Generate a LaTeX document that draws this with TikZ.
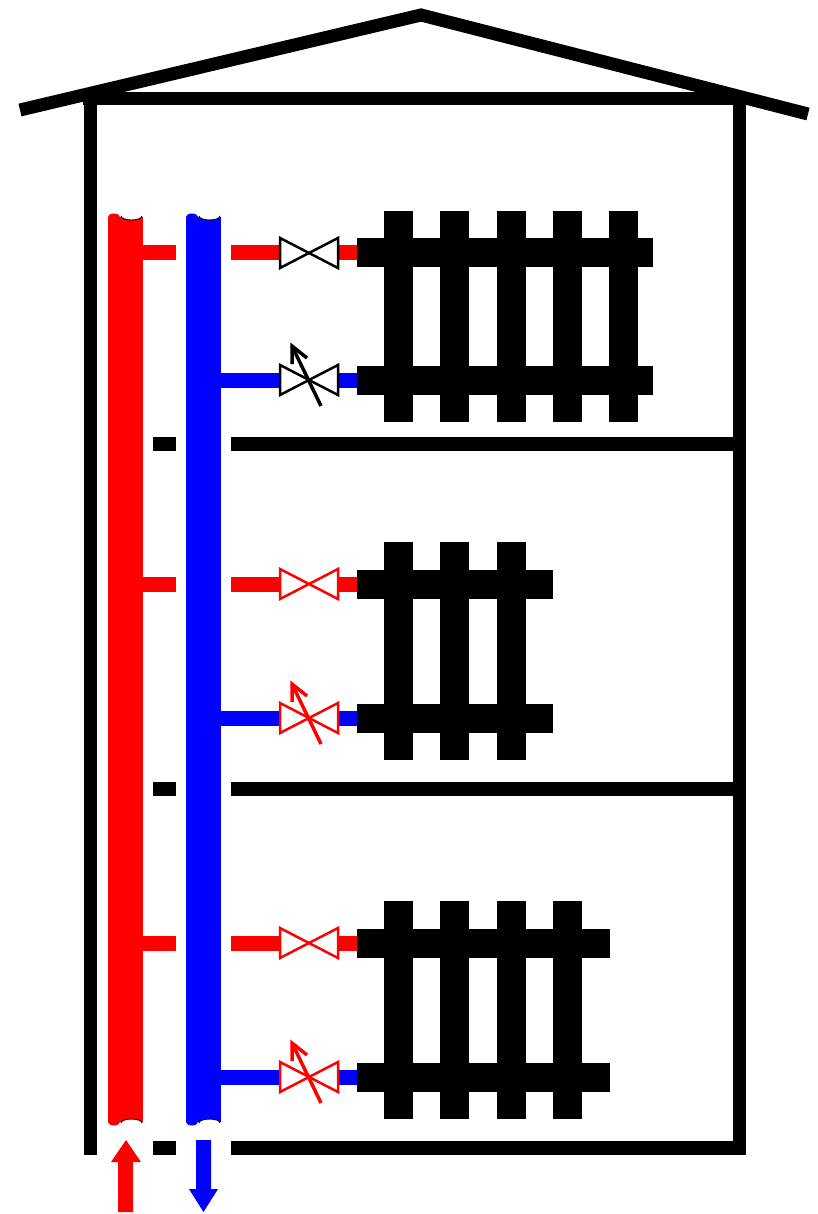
\documentclass[tikz,border=0pt]{standalone}
\begin{document}
\begin{tikzpicture}[x=1pt,y=-1pt,line join=miter]
\useasboundingbox (0,0) rectangle (818,1214);

\tikzset{
  wall/.style={line width=13pt,black},
  slab/.style={line width=14pt,black},
  hot/.style={fill=red},
  cold/.style={fill=blue},
  % plain two-way valve (bow-tie)
  pics/valve/.style={code={
    \draw[line width=2.5pt,draw=#1,fill=white]
      (-29,-15)--(29,15)--(29,-15)--(-29,15)--cycle;
  }},
  % thermostatic valve: bow-tie with an adjusting arrow
  pics/tvalve/.style={code={
    \draw[line width=2.5pt,draw=#1,fill=white]
      (-29,-15)--(29,15)--(29,-15)--(-29,15)--cycle;
    \draw[line width=3.5pt,draw=#1] (12,26)--(-17,-34);
    \draw[line width=3.5pt,draw=#1] (-17,-16)--(-17,-34)--(-2,-22);
  }},
}

% radiator: #1 supply bar y, #2 return bar y, #3 columns, #4 right end of bars
\newcommand\drawradiator[4]{%
  \fill (357,#1-14.5) rectangle (#4,#1+14.5);
  \fill (357,#2-14.5) rectangle (#4,#2+14.5);
  \foreach \k in {1,...,#3}{%
    \fill ({384+56.3*(\k-1)},#1-42) rectangle ({413+56.3*(\k-1)},#2+42);}%
}

% ---- house shell ----
\draw[line width=13pt] (20,110)--(421,15)--(808,114);
\draw[wall] (83,98.5)--(746,98.5);
\draw[wall] (90,92)--(90,1155);
\draw[wall] (739.5,92)--(739.5,1155);

% floor slabs (interrupted where the risers pass)
\foreach \fy in {444,789,1148}{
  \fill (153,\fy-7) rectangle (176,\fy+7);
  \draw[slab] (231,\fy)--(746,\fy);
}

% ---- risers ----
\fill[red] (108,217) rectangle (143,1122);
\fill[blue] (186,217) rectangle (221,1122);
\foreach \px in {108,186}{
  \ifnum\px=108 \def\pc{red}\else\def\pc{blue}\fi
  \fill[\pc] (\px+6,217) ellipse (6 and 3.5);
  \fill[\pc] (\px+6,1122) ellipse (6 and 3.5);
  \fill[white] (\px+23.5,216) ellipse (10.5 and 4);
  \draw[line width=0.9pt] (\px+13,216) arc[start angle=180,end angle=0,x radius=10.5,y radius=4];
  \fill[white] (\px+23.5,1123) ellipse (10.5 and 4);
  \draw[line width=0.9pt] (\px+13,1123) arc[start angle=180,end angle=360,x radius=10.5,y radius=4];
}

% ---- branches, valves and radiators per storey ----
\foreach \ry/\by/\vc in {253/380/black,584/718/red,943/1077/red}{
  \fill[red] (143,\ry-7.5) rectangle (176,\ry+7.5);
  \fill[red] (231,\ry-7.5) rectangle (281,\ry+7.5);
  \fill[red] (337,\ry-7.5) rectangle (358,\ry+7.5);
  \fill[blue] (221,\by-7.5) rectangle (281,\by+7.5);
  \fill[blue] (337,\by-7.5) rectangle (358,\by+7.5);
  \pic at (309,\ry) {valve=\vc};
  \pic at (309,\by) {tvalve=\vc};
}
\drawradiator{253}{380}{5}{653}
\drawradiator{584}{718}{3}{553}
\drawradiator{943}{1077}{4}{610}

% ---- flow arrows ----
\fill[red] (118,1212)--(118,1162)--(111,1162)--(126,1140)--(141,1162)--(133,1162)--(133,1212)--cycle;
\fill[blue] (196,1140)--(211,1140)--(211,1189)--(218,1189)--(203.5,1212)--(189,1189)--(196,1189)--cycle;
\end{tikzpicture}
\end{document}
